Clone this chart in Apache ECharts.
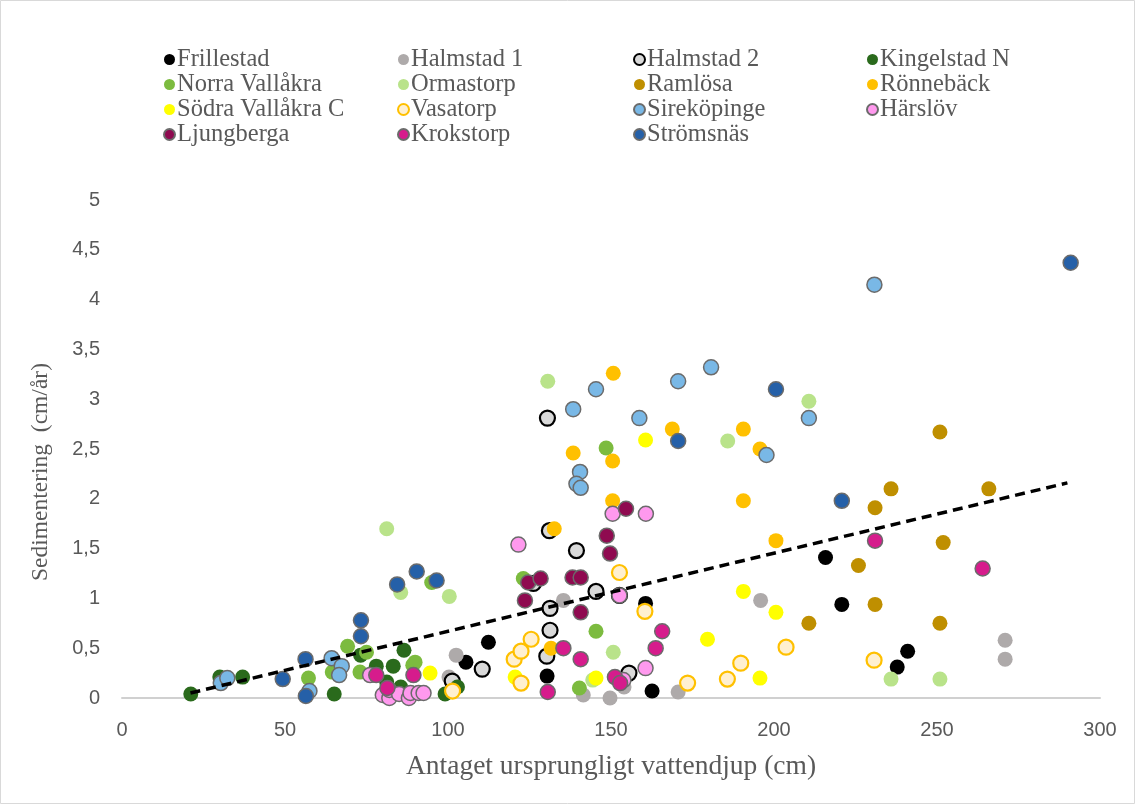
<!DOCTYPE html>
<html>
<head>
<meta charset="utf-8">
<script src="https://cdn.jsdelivr.net/npm/echarts@6/dist/echarts.min.js"></script>
<style>
html,body{margin:0;padding:0;background:#fff;}
#chart{width:1136px;height:805px;}
</style>
</head>
<body>
<div id="chart"></div>
<script>
// ---- data ----
const xTicks = [0, 50, 100, 150, 200, 250, 300];
const yTicks = [0, 0.5, 1, 1.5, 2, 2.5, 3, 3.5, 4, 4.5, 5];

const frillestad = [[105.5,0.36],[112.4,0.56],[130.4,0.22],[160.6,0.95],[162.6,0.07],[215.8,1.41],[220.8,0.94],[237.8,0.31],[241,0.47]];
const halmstad1 = [[102.5,0.43],[100.3,0.21],[135.4,0.98],[141.5,0.03],[149.7,0.0],[154,0.11],[170.6,0.06],[195.9,0.98],[270.9,0.58],[270.9,0.39]];
const halmstad2 = [[130.5,2.81],[131.1,1.68],[139.4,1.48],[126.2,1.15],[131.3,0.9],[145.4,1.07],[152.6,1.03],[131.3,0.68],[130.3,0.42],[110.5,0.29],[101.3,0.17],[155.5,0.25]];
const kingelstadN = [[21.1,0.04],[30,0.21],[37,0.21],[65.1,0.04],[73.2,0.43],[78,0.32],[83.2,0.32],[86.5,0.48],[81.2,0.16],[85.5,0.11],[99.1,0.04],[102.9,0.11]];
const norraVallakra = [[57.2,0.2],[64.5,0.26],[69.2,0.52],[75,0.46],[73,0.26],[89.2,0.33],[89.9,0.36],[95,1.16],[123.1,1.2],[148.5,2.51],[145.4,0.67],[140.3,0.1]];
const ormastorp = [[81.2,1.70],[85.5,1.06],[100.4,1.02],[130.6,3.18],[150.7,0.46],[144.4,0.18],[185.8,2.58],[210.7,2.98],[235.9,0.19],[250.9,0.19]];
const ramlosa = [[225.9,1.33],[231,0.94],[210.7,0.75],[250.9,0.75],[250.9,2.67],[235.9,2.10],[265.9,2.10],[231,1.91],[251.9,1.56]];
const ronnebeck = [[131.6,0.5],[138.4,2.46],[150.5,2.38],[150.5,1.98],[132.6,1.70],[150.7,3.26],[168.8,2.70],[190.6,2.70],[195.7,2.50],[190.6,1.98],[200.6,1.58]];
const sodraVallakraC = [[94.5,0.25],[120.6,0.21],[145.4,0.2],[160.6,2.59],[179.6,0.59],[190.6,1.07],[200.6,0.86],[195.7,0.2]];
const vasatorp = [[101.4,0.07],[120.3,0.39],[122.4,0.47],[125.5,0.59],[122.4,0.15],[152.6,1.26],[160.4,0.87],[173.5,0.15],[185.7,0.19],[189.8,0.35],[203.7,0.51],[230.7,0.38]];
const sirekopinge = [[30.3,0.15],[32.3,0.2],[57.5,0.07],[64.3,0.4],[67.4,0.32],[66.6,0.23],[145.4,3.10],[138.4,2.90],[140.5,2.27],[139.4,2.15],[140.7,2.11],[170.6,3.18],[158.7,2.81],[197.7,2.44],[210.7,2.81],[180.7,3.32],[230.8,4.15]];
const harslov = [[76.1,0.23],[80,0.03],[82,0.0],[82,0.08],[85,0.04],[88,0.0],[88.5,0.05],[91,0.05],[92.5,0.05],[121.6,1.54],[150.5,1.85],[160.7,1.85],[152.6,1.03],[160.6,0.30],[153.8,0.18]];
const ljungberga = [[124.6,1.16],[128.4,1.2],[123.6,0.98],[138.2,1.21],[140.7,1.21],[140.7,0.86],[148.7,1.63],[149.7,1.45],[154.6,1.90]];
const krokstorp = [[78,0.23],[81.4,0.1],[89.4,0.23],[130.6,0.06],[135.4,0.5],[140.7,0.39],[151.2,0.21],[152.8,0.15],[163.7,0.5],[165.7,0.67],[231,1.58],[264,1.3]];
const stromsnas = [[49.3,0.19],[56.3,0.39],[56.4,0.02],[73.3,0.78],[73.3,0.62],[84.4,1.14],[90.4,1.27],[96.5,1.18],[170.6,2.58],[200.6,3.10],[220.8,1.98],[291,4.37]];
const trendline = [[21,0.05],[290,2.16]];

const xTitle = 'Antaget ursprungligt vattendjup (cm)';
const yTitle = 'Sedimentering  (cm/år)';

// ---- styles ----
const GRAY_BORDER = '#6b6b6b';
const seriesDefs = [
  {name:'Frillestad', data:frillestad, color:'#000000'},
  {name:'Halmstad 1', data:halmstad1, color:'#aeaaaa'},
  {name:'Halmstad 2', data:halmstad2, color:'#d9d9d9', border:'#000000', bw:2.2},
  {name:'Kingelstad N', data:kingelstadN, color:'#2a6a1c'},
  {name:'Norra Vallåkra', data:norraVallakra, color:'#7cbb3f'},
  {name:'Ormastorp', data:ormastorp, color:'#b9e38a'},
  {name:'Ramlösa', data:ramlosa, color:'#bf8f00'},
  {name:'Rönnebäck', data:ronnebeck, color:'#ffc000'},
  {name:'Södra Vallåkra C', data:sodraVallakraC, color:'#ffff00'},
  {name:'Vasatorp', data:vasatorp, color:'#fff0d0', border:'#ffc000', bw:2.2},
  {name:'Sireköpinge', data:sirekopinge, color:'#79b8e6', border:GRAY_BORDER, bw:1.5},
  {name:'Härslöv', data:harslov, color:'#ff99ee', border:GRAY_BORDER, bw:1.5},
  {name:'Ljungberga', data:ljungberga, color:'#8f0a50', border:GRAY_BORDER, bw:1.5},
  {name:'Krokstorp', data:krokstorp, color:'#d61c8c', border:GRAY_BORDER, bw:1.5},
  {name:'Strömsnäs', data:stromsnas, color:'#2560a8', border:GRAY_BORDER, bw:1.5}
];

const legendCols = [
  ['Frillestad','Norra Vallåkra','Södra Vallåkra C','Ljungberga'],
  ['Halmstad 1','Ormastorp','Vasatorp','Krokstorp'],
  ['Halmstad 2','Ramlösa','Sireköpinge','Strömsnäs'],
  ['Kingelstad N','Rönnebäck','Härslöv']
];
const legendLefts = [163, 397, 633, 866];

const serif = '"Liberation Serif", "DejaVu Serif", serif';
const sans = '"Liberation Sans", "DejaVu Sans", sans-serif';

const series = seriesDefs.map(s => ({
  name: s.name,
  type: 'scatter',
  data: s.data,
  symbol: 'circle',
  symbolSize: 15,
  itemStyle: {
    color: s.color,
    borderColor: s.border || s.color,
    borderWidth: s.border ? s.bw : 0,
    opacity: 1
  },
  emphasis: {disabled: true}
}));
series.push({
  name: 'trend',
  type: 'line',
  data: trendline,
  symbol: 'none',
  z: 10,
  lineStyle: {color: '#000', width: 3.5, type: [10, 6]},
  silent: true
});

const chart = echarts.init(document.getElementById('chart'), null, {renderer: 'canvas'});
chart.setOption({
  animation: false,
  backgroundColor: '#fff',
  graphic: [{
    type: 'rect',
    shape: {x: 0.5, y: 0.5, width: 1134, height: 803},
    style: {fill: 'none', stroke: '#d9d9d9', lineWidth: 1}
  }, {
    type: 'text',
    x: 41, y: 472,
    rotation: Math.PI / 2,
    style: {text: yTitle, font: '23.5px ' + serif, fill: '#595959', align: 'center', verticalAlign: 'middle'}
  }],
  legend: legendCols.map((col, i) => ({
    data: col,
    orient: 'vertical',
    left: legendLefts[i],
    top: 47,
    itemWidth: 11,
    itemHeight: 11,
    itemGap: 0,
    padding: 0,
    icon: 'circle',
    selectedMode: false,
    textStyle: {fontFamily: serif, fontSize: 24.5, color: '#595959', padding: [0,0,0,-3], lineHeight: 22}
  })),
  grid: {left: 122, right: 36, top: 200, bottom: 107, containLabel: false},
  xAxis: {
    type: 'value',
    min: 0, max: 300, interval: 50,
    name: xTitle,
    nameLocation: 'middle',
    nameGap: 55,
    nameTextStyle: {fontFamily: serif, fontSize: 27.5, color: '#595959'},
    axisLine: {show: true, lineStyle: {color: '#d0d0d0', width: 2}},
    axisTick: {show: false},
    splitLine: {show: false},
    axisLabel: {fontFamily: sans, fontSize: 20, color: '#595959', margin: 22,
      formatter: v => xTicks.includes(v) ? String(v) : ''}
  },
  yAxis: {
    type: 'value',
    min: 0, max: 5, interval: 0.5,
    axisLine: {show: false},
    axisTick: {show: false},
    splitLine: {show: false},
    axisLabel: {fontFamily: sans, fontSize: 20, color: '#595959', margin: 22,
      formatter: v => yTicks.includes(v) ? String(v).replace('.', ',') : ''}
  },
  series: series
});
</script>
</body>
</html>
